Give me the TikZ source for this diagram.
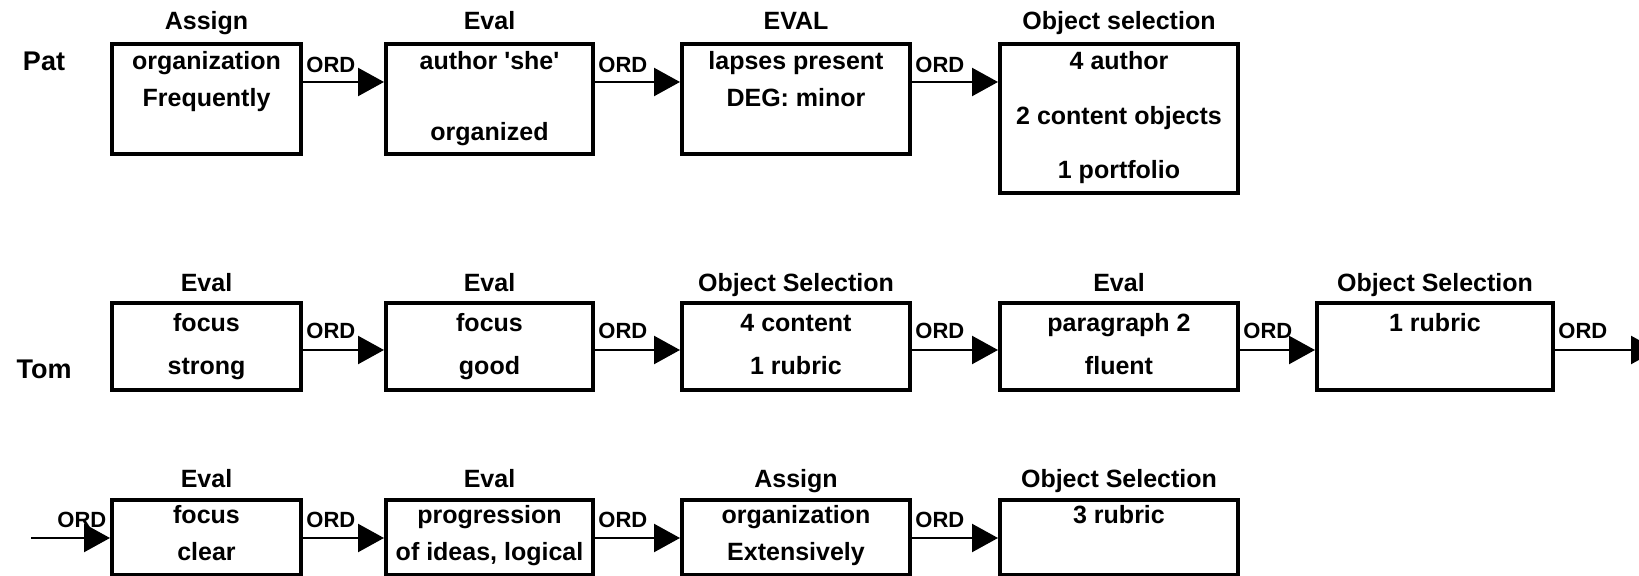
\documentclass[tikz,border=0pt]{standalone}
\usepackage{fontspec}
\setmainfont{Liberation Sans}
\newfontfamily\plainsans{Liberation Sans}
\usetikzlibrary{arrows.meta,fit}
\begin{document}
\begin{tikzpicture}[x=0.5pt,y=-0.5pt,
  box/.style={draw, line width=2pt, inner sep=0pt},
  txt/.style={font=\plainsans\bfseries\fontsize{12.5}{15}\selectfont, inner sep=0pt, text height=9pt, text depth=2.5pt},
  ttl/.style={txt},
  who/.style={font=\plainsans\bfseries\fontsize{13.5}{16}\selectfont, inner sep=0pt},
  ord/.style={font=\plainsans\bfseries\fontsize{11}{13}\selectfont, inner sep=0pt, anchor=base west, xshift=1.5pt},
  arr/.style={line width=1.2pt, -{Triangle[length=13pt,width=14pt]}}
]
\useasboundingbox (0,0) rectangle (1639,576);
% row levels
\coordinate (r1t) at (0,23);  \coordinate (r1a) at (0,82);  \coordinate (r1o) at (0,73);
\coordinate (r1l1) at (0,63); \coordinate (r1l2) at (0,100); \coordinate (r1l3) at (0,134);
\coordinate (r1m2) at (0,118); \coordinate (r1m3) at (0,172);
\coordinate (r2t) at (0,285); \coordinate (r2a) at (0,350); \coordinate (r2o) at (0,339);
\coordinate (r2l1) at (0,325); \coordinate (r2l2) at (0,368);
\coordinate (r3t) at (0,481); \coordinate (r3a) at (0,538); \coordinate (r3o) at (0,528);
\coordinate (r3l1) at (0,517); \coordinate (r3l2) at (0,554);

% ---------- Row 1: Pat ----------
\node[who] (pat) at (44,61) {Pat};
\node[box, fit={(112,44) (301,154)}] (p1) {};
\node[box, fit={(386,44) (593,154)}] (p2) {};
\node[box, fit={(682,44) (910,154)}] (p3) {};
\node[box, fit={(1000,44) (1238,193)}] (p4) {};
\node[ttl] (p1h) at (p1.north |- r1t) {Assign};
\node[ttl] (p2h) at (p2.north |- r1t) {Eval};
\node[ttl] (p3h) at (p3.north |- r1t) {EVAL};
\node[ttl] (p4h) at (p4.north |- r1t) {Object selection};
\node[txt] (p1a) at (p1.north |- r1l1) {organization};
\node[txt] (p1b) at (p1.north |- r1l2) {Frequently};
\node[txt] (p2a) at (p2.north |- r1l1) {author 'she'};
\node[txt] (p2b) at (p2.north |- r1l3) {organized};
\node[txt] (p3a) at (p3.north |- r1l1) {lapses present};
\node[txt] (p3b) at (p3.north |- r1l2) {DEG: minor};
\node[txt] (p4a) at (p4.north |- r1l1) {4 author};
\node[txt] (p4b) at (p4.north |- r1m2) {2 content objects};
\node[txt] (p4c) at (p4.north |- r1m3) {1 portfolio};
\draw[arr] (p1.east |- r1a) -- (p2.west |- r1a);
\draw[arr] (p2.east |- r1a) -- (p3.west |- r1a);
\draw[arr] (p3.east |- r1a) -- (p4.west |- r1a);
\node[ord] (po1) at (p1.east |- r1o) {ORD};
\node[ord] (po2) at (p2.east |- r1o) {ORD};
\node[ord] (po3) at (p3.east |- r1o) {ORD};

% ---------- Row 2: Tom ----------
\node[who] (tom) at (44,369) {Tom};
\node[box, fit={(112,303) (301,390)}] (t1) {};
\node[box, fit={(386,303) (593,390)}] (t2) {};
\node[box, fit={(682,303) (910,390)}] (t3) {};
\node[box, fit={(1000,303) (1238,390)}] (t4) {};
\node[box, fit={(1317,303) (1553,390)}] (t5) {};
\node[ttl] (t1h) at (t1.north |- r2t) {Eval};
\node[ttl] (t2h) at (t2.north |- r2t) {Eval};
\node[ttl] (t3h) at (t3.north |- r2t) {Object Selection};
\node[ttl] (t4h) at (t4.north |- r2t) {Eval};
\node[ttl] (t5h) at (t5.north |- r2t) {Object Selection};
\node[txt] (t1a) at (t1.north |- r2l1) {focus};
\node[txt] (t1b) at (t1.north |- r2l2) {strong};
\node[txt] (t2a) at (t2.north |- r2l1) {focus};
\node[txt] (t2b) at (t2.north |- r2l2) {good};
\node[txt] (t3a) at (t3.north |- r2l1) {4 content};
\node[txt] (t3b) at (t3.north |- r2l2) {1 rubric};
\node[txt] (t4a) at (t4.north |- r2l1) {paragraph 2};
\node[txt] (t4b) at (t4.north |- r2l2) {fluent};
\node[txt] (t5a) at (t5.north |- r2l1) {1 rubric};
\coordinate (tout) at (1657,350);
\draw[arr] (t1.east |- r2a) -- (t2.west |- r2a);
\draw[arr] (t2.east |- r2a) -- (t3.west |- r2a);
\draw[arr] (t3.east |- r2a) -- (t4.west |- r2a);
\draw[arr] (t4.east |- r2a) -- (t5.west |- r2a);
\draw[arr] (t5.east |- r2a) -- (tout);
\node[ord] (to1) at (t1.east |- r2o) {ORD};
\node[ord] (to2) at (t2.east |- r2o) {ORD};
\node[ord] (to3) at (t3.east |- r2o) {ORD};
\node[ord] (to4) at (t4.east |- r2o) {ORD};
\node[ord] (to5) at (t5.east |- r2o) {ORD};

% ---------- Row 3 ----------
\node[box, fit={(112,500) (301,575)}] (u1) {};
\node[box, fit={(386,500) (593,575)}] (u2) {};
\node[box, fit={(682,500) (910,575)}] (u3) {};
\node[box, fit={(1000,500) (1238,575)}] (u4) {};
\node[ttl] (u1h) at (u1.north |- r3t) {Eval};
\node[ttl] (u2h) at (u2.north |- r3t) {Eval};
\node[ttl] (u3h) at (u3.north |- r3t) {Assign};
\node[ttl] (u4h) at (u4.north |- r3t) {Object Selection};
\node[txt] (u1a) at (u1.north |- r3l1) {focus};
\node[txt] (u1b) at (u1.north |- r3l2) {clear};
\node[txt] (u2a) at (u2.north |- r3l1) {progression};
\node[txt] (u2b) at (u2.north |- r3l2) {of ideas, logical};
\node[txt] (u3a) at (u3.north |- r3l1) {organization};
\node[txt] (u3b) at (u3.north |- r3l2) {Extensively};
\node[txt] (u4a) at (u4.north |- r3l1) {3 rubric};
\coordinate (uin) at (31,538);
\draw[arr] (uin) -- (u1.west |- r3a);
\draw[arr] (u1.east |- r3a) -- (u2.west |- r3a);
\draw[arr] (u2.east |- r3a) -- (u3.west |- r3a);
\draw[arr] (u3.east |- r3a) -- (u4.west |- r3a);
\node[ord, xshift=-1.5pt] (uo0) at (57,528) {ORD};
\node[ord] (uo1) at (u1.east |- r3o) {ORD};
\node[ord] (uo2) at (u2.east |- r3o) {ORD};
\node[ord] (uo3) at (u3.east |- r3o) {ORD};
\end{tikzpicture}
\end{document}
